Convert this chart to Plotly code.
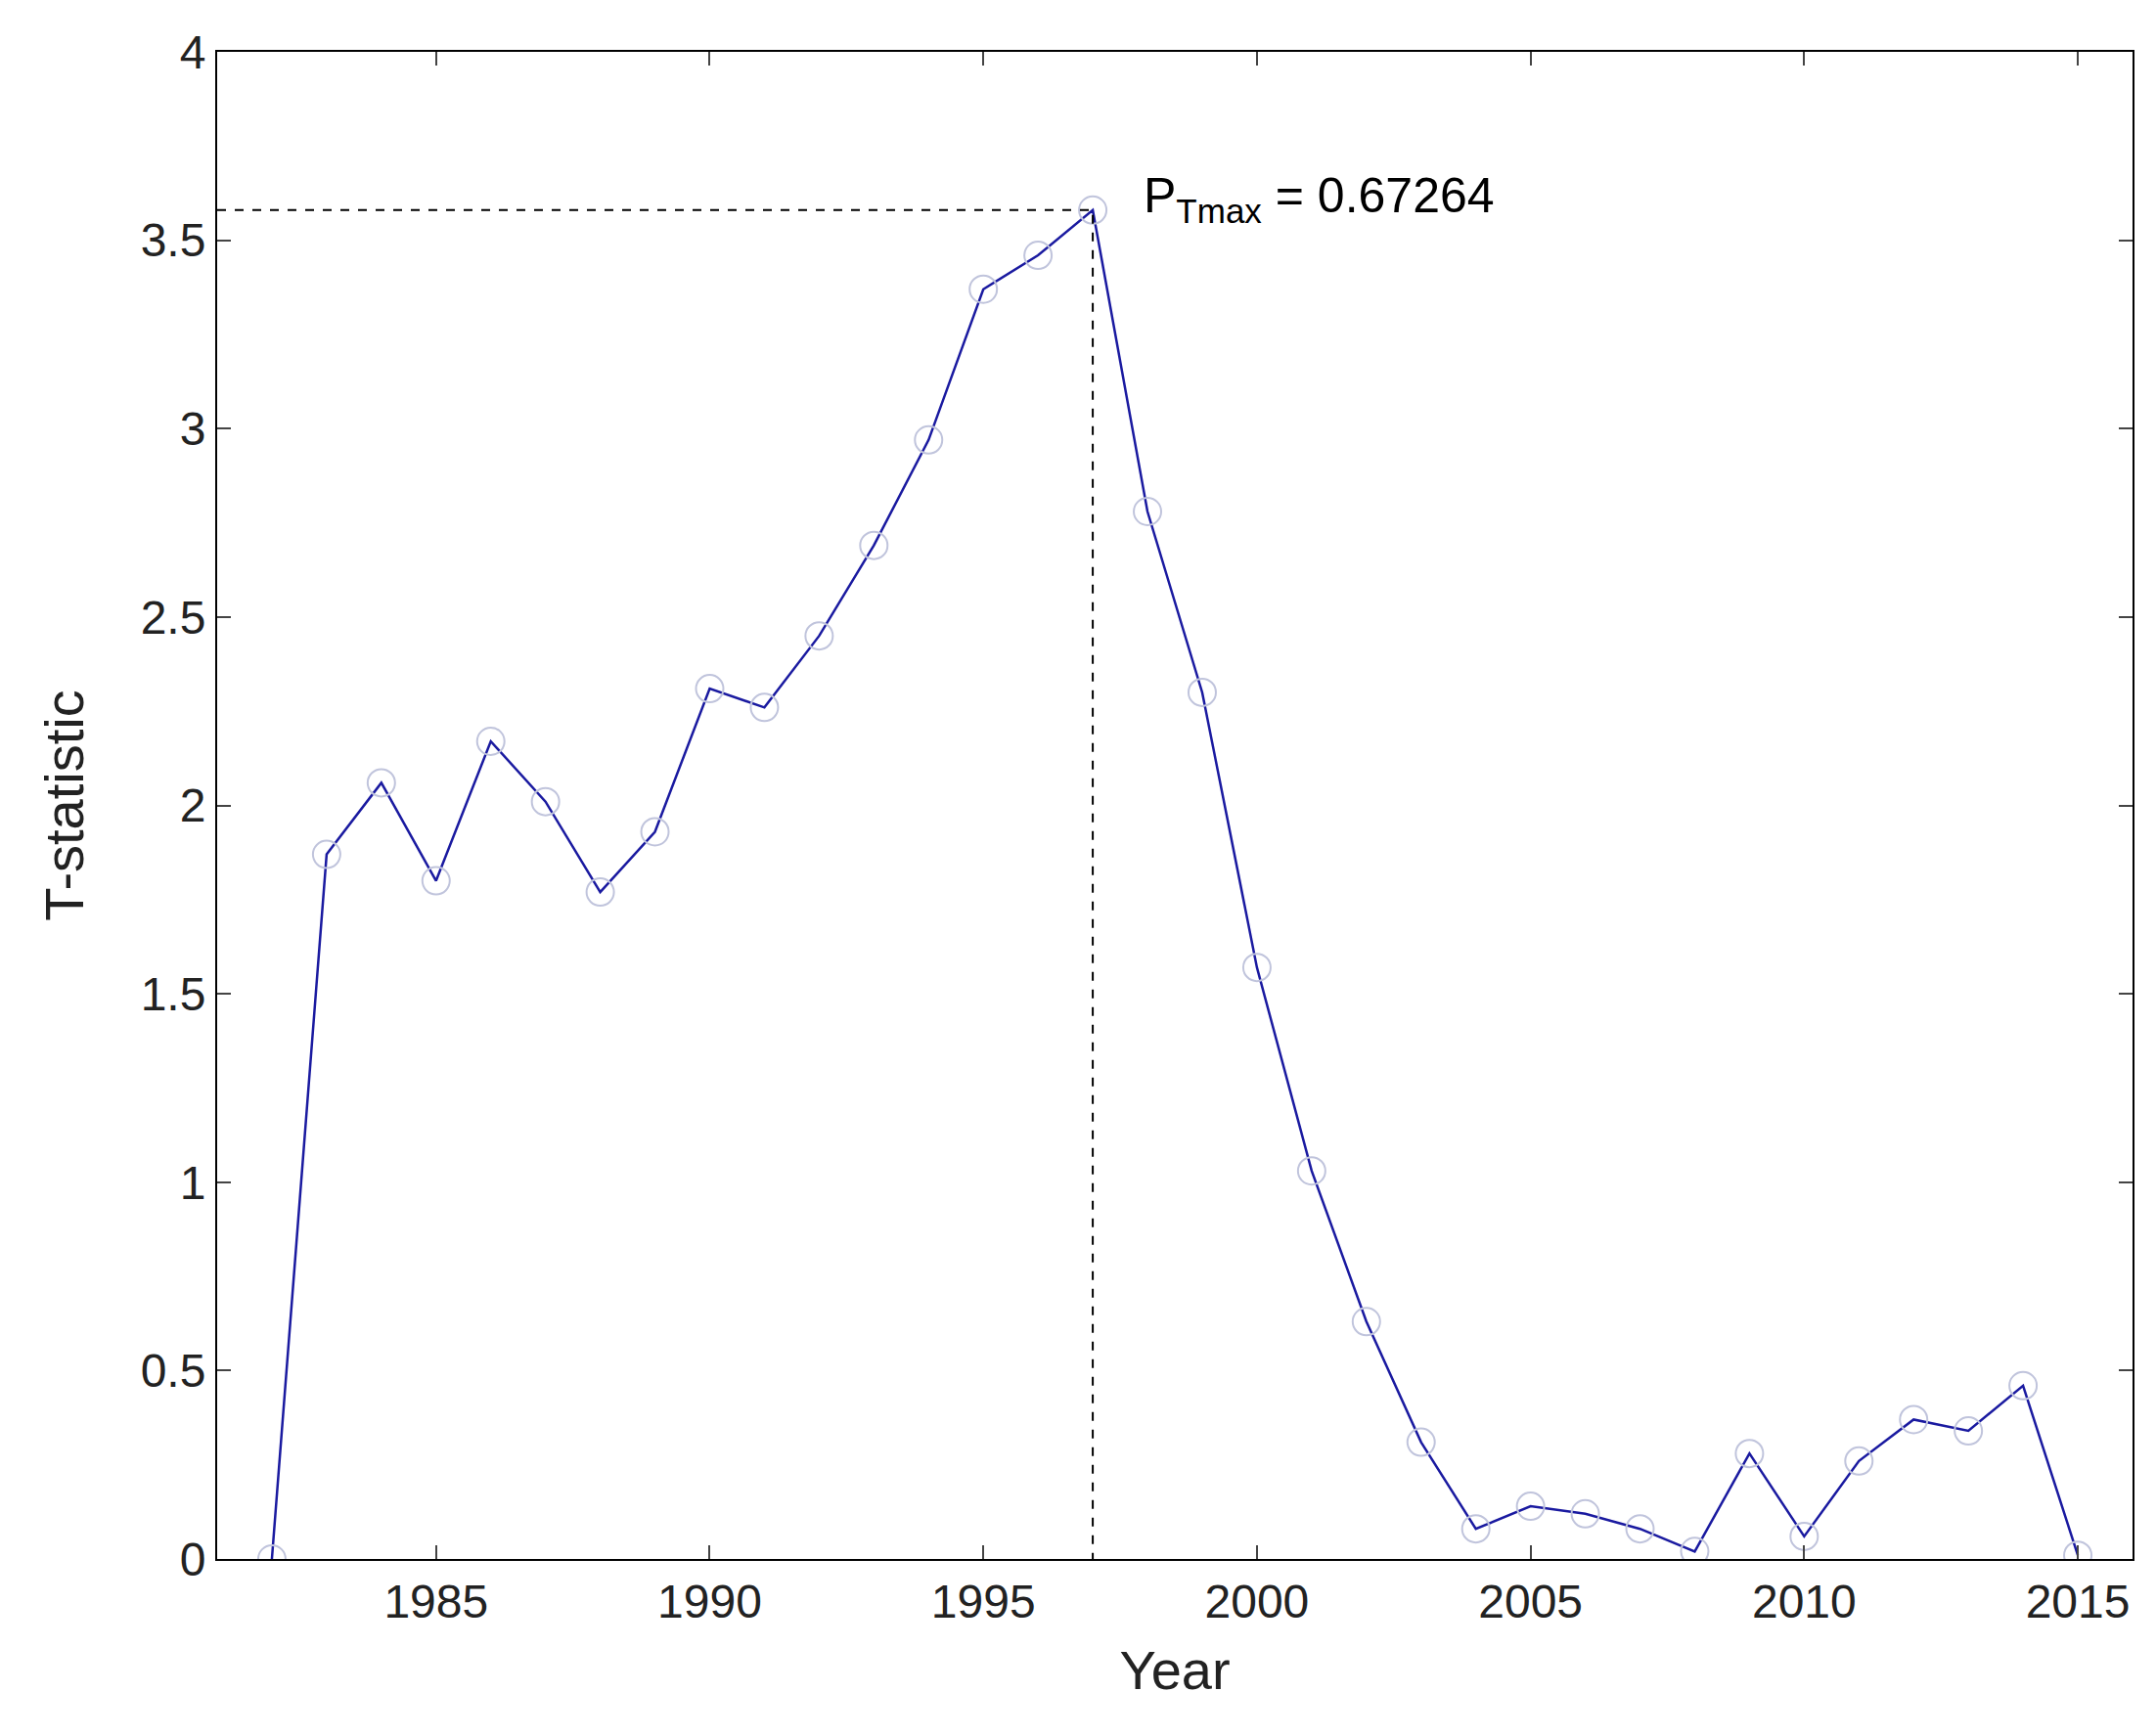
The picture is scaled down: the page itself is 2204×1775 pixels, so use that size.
import plotly.graph_objects as go

years = list(range(1982, 2016))
tstat = [0.0, 1.87, 2.06, 1.80, 2.17, 2.01, 1.77, 1.93, 2.31, 2.26, 2.45, 2.69, 2.97, 3.37,
         3.46, 3.58, 2.78, 2.30, 1.57, 1.03, 0.63, 0.31, 0.08, 0.14, 0.12, 0.08, 0.02, 0.28,
         0.06, 0.26, 0.37, 0.34, 0.46, 0.01]
peak_year = 1997
peak_val = 3.58
label = "P<sub>Tmax</sub> = 0.67264"

fig = go.Figure()
fig.add_trace(go.Scatter(x=years, y=tstat, mode="lines", line=dict(color="#1a1aa0", width=2.5)))
fig.add_trace(go.Scatter(x=years, y=tstat, mode="markers",
                         marker=dict(symbol="circle-open", size=28, color="#c0c4dc", line=dict(width=2))))
fig.add_trace(go.Scatter(x=[1981, peak_year, peak_year], y=[peak_val, peak_val, 0], mode="lines",
                         line=dict(color="black", width=2, dash="dash")))
fig.add_annotation(x=peak_year + 0.9, y=peak_val + 0.03, text=label, showarrow=False,
                   xanchor="left", yanchor="middle", font=dict(size=50, color="black"))

ax = dict(showline=True, linecolor="black", linewidth=2, mirror="ticks", ticks="inside",
          ticklen=14, tickwidth=2, showgrid=False, zeroline=False,
          tickfont=dict(size=48, color="#222"))
fig.update_xaxes(**ax, range=[1981, 2016], tickvals=[1985, 1990, 1995, 2000, 2005, 2010, 2015],
                 title=dict(text="Year", font=dict(size=56, color="#222"), standoff=25))
fig.update_yaxes(**ax, range=[0, 4], tickvals=[0, 0.5, 1, 1.5, 2, 2.5, 3, 3.5, 4],
                 ticktext=["0", "0.5", "1", "1.5", "2", "2.5", "3", "3.5", "4"],
                 title=dict(text="T-statistic", font=dict(size=56, color="#222"), standoff=40))
fig.update_layout(width=2204, height=1775, showlegend=False, plot_bgcolor="white",
                  paper_bgcolor="white", font=dict(family="Liberation Sans"),
                  margin=dict(l=214, r=32, t=45, b=189))
fig.write_html("out.html")
